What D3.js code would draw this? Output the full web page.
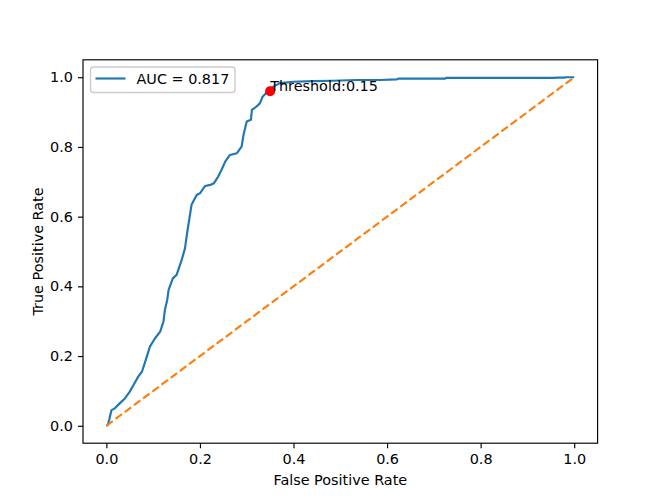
<!DOCTYPE html>
<html>
<head>
<meta charset="utf-8">
<script src="https://cdn.jsdelivr.net/npm/d3@7"></script>
<style>
  body { margin: 0; background: #fff; }
  svg { display: block; font-family: "DejaVu Sans", sans-serif; }
</style>
</head>
<body>
<svg></svg>
<script>
let fpr = [0.000, 0.003, 0.006, 0.011, 0.018, 0.029, 0.040, 0.050, 0.058, 0.068,
           0.076, 0.083, 0.093, 0.104, 0.115, 0.122, 0.125, 0.130, 0.133, 0.142,
           0.150, 0.161, 0.168, 0.172, 0.177, 0.182, 0.193, 0.200, 0.211, 0.222,
           0.230, 0.239, 0.246, 0.254, 0.264, 0.279, 0.289, 0.293, 0.300, 0.309,
           0.311, 0.321, 0.328, 0.334, 0.346, 0.357, 0.371, 0.400, 0.442, 0.484,
           0.535, 0.585, 0.621, 0.624, 0.724, 0.726, 0.959, 0.960, 0.980, 0.981, 1.000];
let tpr = [0.000, 0.002, 0.017, 0.045, 0.050, 0.065, 0.079, 0.098, 0.117, 0.141,
           0.155, 0.184, 0.227, 0.251, 0.270, 0.299, 0.332, 0.361, 0.390, 0.423,
           0.433, 0.476, 0.509, 0.548, 0.591, 0.634, 0.662, 0.667, 0.688, 0.691,
           0.696, 0.715, 0.734, 0.758, 0.777, 0.782, 0.801, 0.834, 0.873, 0.878,
           0.906, 0.916, 0.925, 0.944, 0.961, 0.973, 0.983, 0.987, 0.989, 0.990,
           0.992, 0.992, 0.994, 0.996, 0.996, 0.998, 0.998, 0.999, 0.999, 1.000, 1.000];
let chanceX = [0, 1];
let chanceY = [0, 1];
let bestPoint = { fpr: 0.35, tpr: 0.96, label: 'Threshold:0.15' };
let aucLabel = 'AUC = 0.817';
let tickValues = [0.0, 0.2, 0.4, 0.6, 0.8, 1.0];

let width = 664;
let height = 498;
let axLeft = 83, axRight = 597.6, axTop = 59.8, axBottom = 443.2;
let pt = 664 / 6.4 / 72;

let xScale = d3.scaleLinear()
                .domain([-0.05, 1.05])
                .range([axLeft, axRight]);

let yScale = d3.scaleLinear()
                .domain([-0.05, 1.05])
                .range([axBottom, axTop]);

let svg = d3.select('svg')
    .attr('width', width)
    .attr('height', height);

svg.append('rect')
    .attr('width', width)
    .attr('height', height)
    .attr('fill', '#fff');

let xAxis = d3.axisBottom(xScale)
                .tickValues(tickValues)
                .tickFormat(d3.format('.1f'))
                .tickSize(3.5 * pt)
                .tickSizeOuter(0)
                .tickPadding(3.5 * pt);

let yAxis = d3.axisLeft(yScale)
                .tickValues(tickValues)
                .tickFormat(d3.format('.1f'))
                .tickSize(3.5 * pt)
                .tickSizeOuter(0)
                .tickPadding(3.5 * pt);

let gx = svg.append('g')
    .attr('transform', `translate(0, ${axBottom})`)
    .call(xAxis);

let gy = svg.append('g')
    .attr('transform', `translate(${axLeft}, 0)`)
    .call(yAxis);

[gx, gy].forEach(g => {
    g.select('.domain').remove();
    g.selectAll('line').attr('stroke', '#000').attr('stroke-width', 0.8 * pt);
    g.selectAll('text')
        .attr('fill', '#000')
        .style('font-size', '14.4px')
        .style('font-family', '"DejaVu Sans", sans-serif');
});
gx.selectAll('text').attr('dy', '0.76em');

let line = d3.line()
    .x(d => xScale(d[0]))
    .y(d => yScale(d[1]));

svg.append('path')
    .datum(fpr.map((f, i) => [f, tpr[i]]))
    .attr('d', line)
    .attr('fill', 'none')
    .attr('stroke', '#1f77b4')
    .attr('stroke-width', 1.5 * pt)
    .attr('stroke-linejoin', 'round');

svg.append('path')
    .datum(chanceX.map((f, i) => [f, chanceY[i]]))
    .attr('d', line)
    .attr('fill', 'none')
    .attr('stroke', '#ff7f0e')
    .attr('stroke-width', 1.5 * pt)
    .attr('stroke-dasharray', `${5.55 * pt},${2.4 * pt}`);

svg.append('circle')
    .attr('cx', xScale(bestPoint.fpr))
    .attr('cy', yScale(bestPoint.tpr))
    .attr('r', 3 * pt)
    .attr('fill', 'red')
    .attr('stroke', 'red')
    .attr('stroke-width', 1 * pt);

svg.append('text')
    .attr('x', xScale(bestPoint.fpr))
    .attr('y', yScale(bestPoint.tpr))
    .style('font-size', '14.4px')
    .text(bestPoint.label);

// frame
svg.append('rect')
    .attr('x', axLeft)
    .attr('y', axTop)
    .attr('width', axRight - axLeft)
    .attr('height', axBottom - axTop)
    .attr('fill', 'none')
    .attr('stroke', '#000')
    .attr('stroke-width', 0.8 * pt);

// legend
let legend = svg.append('g');
legend.append('rect')
    .attr('x', 90.5)
    .attr('y', 67)
    .attr('width', 144.5)
    .attr('height', 25.5)
    .attr('rx', 3)
    .attr('fill', '#fff')
    .attr('fill-opacity', 0.8)
    .attr('stroke', '#ccc')
    .attr('stroke-width', 1.4);
legend.append('line')
    .attr('x1', 95.5)
    .attr('x2', 125.5)
    .attr('y1', 78.5)
    .attr('y2', 78.5)
    .attr('stroke', '#1f77b4')
    .attr('stroke-width', 1.5 * pt);
legend.append('text')
    .attr('x', 136.5)
    .attr('y', 83.8)
    .style('font-size', '14.4px')
    .text(aucLabel);

svg.append('text')
    .attr('x', (axLeft + axRight) / 2)
    .attr('y', 485)
    .style('text-anchor', 'middle')
    .style('font-size', '14.4px')
    .text('False Positive Rate');

svg.append('text')
    .attr('transform', 'rotate(-90)')
    .attr('x', -(axTop + axBottom) / 2)
    .attr('y', 42.5)
    .style('text-anchor', 'middle')
    .style('font-size', '14.4px')
    .text('True Positive Rate');
</script>
</body>
</html>
